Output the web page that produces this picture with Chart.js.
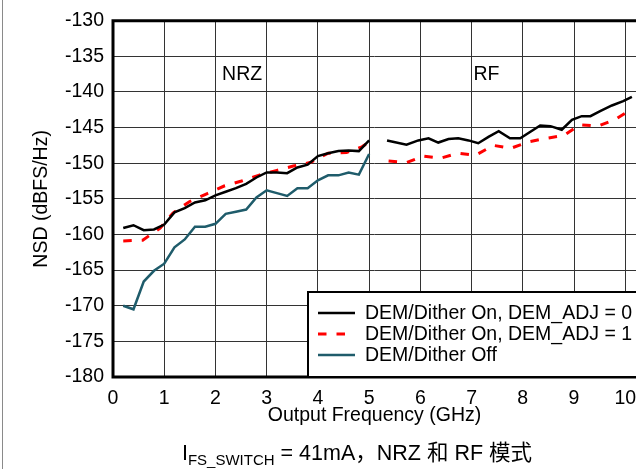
<!DOCTYPE html>
<html>
<head>
<meta charset="utf-8">
<script src="https://cdn.jsdelivr.net/npm/chart.js@4/dist/chart.umd.min.js"></script>
<style>
  html, body { margin: 0; padding: 0; background: #fff; width: 636px; height: 469px; overflow: hidden; }
  #wrap { position: absolute; left: 0; top: 0; width: 700px; height: 469px; }
  #frame { position: absolute; left: 2px; top: 0; width: 1px; height: 469px; background: #8a8a8a; }
  #caption { position: absolute; left: 0; top: 441px; width: 714px; text-align: center;
    font-family: "Liberation Sans", Arial, "Noto Sans CJK SC", sans-serif; font-size: 21.5px; color: #000; line-height: 24px; white-space: nowrap; }
  #caption sub { font-size: 15px; vertical-align: -5px; line-height: 0; }
</style>
</head>
<body>
<div id="wrap"><canvas id="c" width="700" height="469"></canvas></div>
<div id="frame"></div>
<div id="caption">I<sub>FS_SWITCH</sub> = 41mA，NRZ 和 RF 模式</div>
<script>
// ---- data ----
const seriesLabels = ['DEM/Dither On, DEM_ADJ = 0', 'DEM/Dither On, DEM_ADJ = 1', 'DEM/Dither Off'];

const adj0Freq = [0.2,0.4,0.6,0.8,1.0,1.2,1.4,1.6,1.8,2.0,2.2,2.4,2.6,2.8,3.0,3.2,3.4,3.6,3.8,4.0,4.2,4.4,4.6,4.8,5.0,
  5.2,
  5.35,5.73,5.96,6.16,6.35,6.55,6.74,6.94,7.13,7.33,7.53,7.75,7.95,8.34,8.54,8.76,8.96,9.15,9.32,9.51,9.74,9.96,10.13];
const adj0Nsd = [-159.1,-158.7,-159.4,-159.3,-158.6,-156.9,-156.3,-155.5,-155.2,-154.5,-154.0,-153.5,-152.9,-152.0,-151.3,-151.3,-151.4,-150.6,-150.2,-149.0,-148.6,-148.3,-148.2,-148.3,-146.8,
  null,
  -146.8,-147.4,-146.8,-146.5,-147.1,-146.6,-146.5,-146.8,-147.2,-146.3,-145.5,-146.5,-146.5,-144.7,-144.8,-145.3,-143.9,-143.4,-143.4,-142.7,-141.9,-141.3,-140.7];

const adj1Freq = [0.2,0.58,0.92,1.17,1.49,1.83,2.17,2.51,2.84,3.2,3.52,3.85,4.2,4.56,4.86,5.0,
  5.2,
  5.38,5.73,6.06,6.39,6.74,7.07,7.43,7.77,8.11,8.46,8.8,9.12,9.47,9.82,10.13];
const adj1Nsd = [-160.9,-160.8,-159.1,-157.0,-155.4,-154.3,-153.2,-152.5,-151.7,-151.0,-150.4,-149.9,-148.6,-148.5,-147.7,-147.0,
  null,
  -149.7,-149.9,-149.0,-149.3,-148.6,-148.9,-147.5,-147.9,-147.0,-146.5,-146.1,-144.6,-144.8,-143.8,-142.4];

const offFreq = [0.2,0.4,0.6,0.8,1.0,1.2,1.4,1.6,1.8,2.0,2.2,2.4,2.6,2.8,3.0,3.2,3.4,3.6,3.8,4.0,4.2,4.4,4.6,4.8,5.0];
const offNsd = [-170.0,-170.5,-166.6,-165.1,-164.1,-161.8,-160.7,-158.9,-158.9,-158.5,-157.1,-156.8,-156.5,-154.8,-153.8,-154.2,-154.6,-153.5,-153.5,-152.4,-151.7,-151.7,-151.3,-151.6,-148.7];

const xTicks = [0,1,2,3,4,5,6,7,8,9,10];
const yTicks = [-180,-175,-170,-165,-160,-155,-150,-145,-140,-135,-130];
const regionLabels = [{text: 'NRZ', x: 2.52, y: -137.5}, {text: 'RF', x: 7.29, y: -137.5}];

const FONT = '"Liberation Sans", Arial, sans-serif';
const FS = 19.5;

function pts(xs, ys) { return xs.map((x, i) => ({x: x, y: ys[i]})); }

const framePlugin = {
  id: 'frame',
  beforeDatasetsDraw(chart) {
    const {ctx, chartArea: a} = chart;
    ctx.save();
    ctx.strokeStyle = '#000';
    ctx.lineWidth = 3;
    ctx.beginPath();
    ctx.moveTo(a.right + 30, a.top);
    ctx.lineTo(a.left, a.top);
    ctx.lineTo(a.left, a.bottom);
    ctx.lineTo(a.right + 30, a.bottom);
    ctx.stroke();
    ctx.restore();
  },
  afterDatasetsDraw(chart) {
    const {ctx, chartArea: a, scales} = chart;
    ctx.save();
    ctx.font = FS + 'px ' + FONT;
    ctx.fillStyle = '#000';
    ctx.textAlign = 'center';
    ctx.textBaseline = 'middle';
    regionLabels.forEach(r => ctx.fillText(r.text, scales.x.getPixelForValue(r.x), scales.y.getPixelForValue(r.y)));
    // legend box (extends past the cropped right edge, as in the reference)
    const lx = 308, ly = 292, rx = a.right + 30;
    ctx.fillStyle = '#fff';
    ctx.fillRect(lx, ly, rx - lx, a.bottom - ly);
    ctx.strokeStyle = '#000';
    ctx.lineWidth = 2;
    ctx.strokeRect(lx, ly, rx - lx, a.bottom - ly);
    chart.data.datasets.forEach((ds, i) => {
      const y = 313 + i * 21;
      ctx.beginPath();
      ctx.strokeStyle = ds.borderColor;
      ctx.lineWidth = ds.borderWidth;
      ctx.setLineDash(ds.borderDash || []);
      ctx.moveTo(318, y);
      ctx.lineTo(355, y);
      ctx.stroke();
      ctx.setLineDash([]);
      ctx.fillStyle = '#000';
      ctx.textAlign = 'left';
      ctx.textBaseline = 'middle';
      ctx.fillText(ds.label, 365, y + 1);
    });
    ctx.restore();
  }
};

new Chart(document.getElementById('c'), {
  type: 'line',
  data: {
    datasets: [
      { label: seriesLabels[0], data: pts(adj0Freq, adj0Nsd), borderColor: '#000000', borderWidth: 2.5, pointRadius: 0, spanGaps: false, tension: 0 },
      { label: seriesLabels[1], data: pts(adj1Freq, adj1Nsd), borderColor: '#ff0000', borderWidth: 3, borderDash: [8.5, 10], pointRadius: 0, spanGaps: false, tension: 0 },
      { label: seriesLabels[2], data: pts(offFreq, offNsd), borderColor: '#1f5c6b', borderWidth: 2.5, pointRadius: 0, spanGaps: false, tension: 0 }
    ]
  },
  options: {
    responsive: false,
    animation: false,
    events: [],
    layout: { padding: { top: 18, left: 0, right: 64, bottom: 0 } },
    plugins: { legend: { display: false }, tooltip: { enabled: false } },
    scales: {
      x: {
        type: 'linear', min: 0, max: 10.21,
        afterBuildTicks: s => { s.ticks = xTicks.map(v => ({value: v})); },
        afterFit: s => { s.height = 92; },
        grid: { color: '#333', lineWidth: 1, drawTicks: false },
        border: { display: false },
        ticks: { color: '#000', font: { family: FONT, size: FS }, padding: 9.6, maxRotation: 0, autoSkip: false },
        title: { display: true, text: 'Output Frequency (GHz)', color: '#000', font: { family: FONT, size: FS }, padding: { top: 0, bottom: 41.3 } }
      },
      y: {
        type: 'linear', min: -180, max: -130,
        afterBuildTicks: s => { s.ticks = yTicks.map(v => ({value: v})); },
        afterFit: s => { s.width = 113; },
        grid: { color: '#333', lineWidth: 1, drawTicks: false },
        border: { display: false },
        ticks: { color: '#000', font: { family: FONT, size: FS }, padding: 9, autoSkip: false },
        title: { display: true, text: 'NSD (dBFS/Hz)', color: '#000', font: { family: FONT, size: FS }, padding: { top: 30.3, bottom: 0 } }
      }
    }
  },
  plugins: [framePlugin]
});
</script>
</body>
</html>
